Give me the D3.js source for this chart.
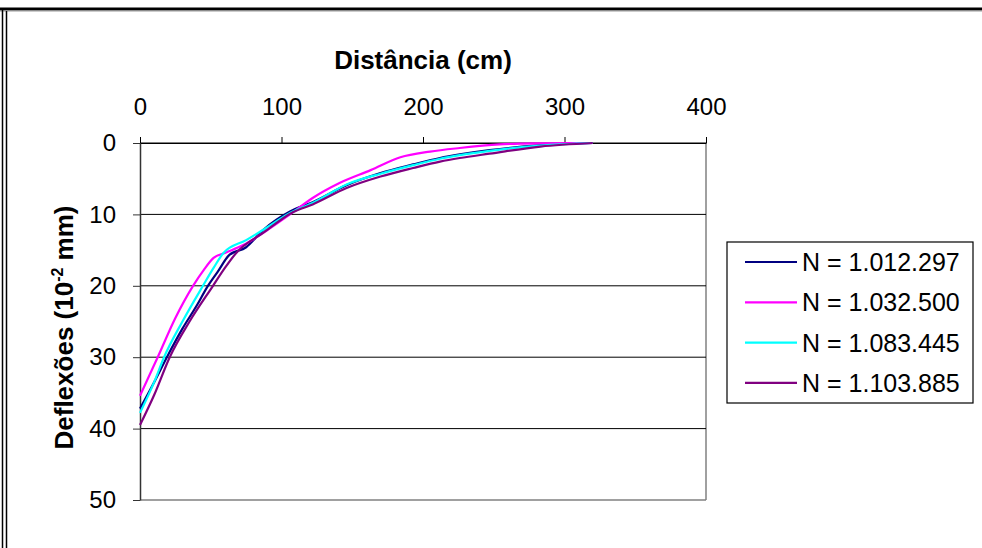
<!DOCTYPE html>
<html><head><meta charset="utf-8">
<script src="https://cdn.jsdelivr.net/npm/d3@7/dist/d3.min.js"></script>
<style>
html,body{margin:0;padding:0;background:#fff;}
svg{display:block;font-family:"Liberation Sans",Arial,sans-serif;}
</style></head>
<body>
<svg id="chart" width="982" height="548"></svg>
<script>
const xTicks = [0, 100, 200, 300, 400];
const yTicks = [0, 10, 20, 30, 40, 50];
const seriesNames = ["N = 1.012.297", "N = 1.032.500", "N = 1.083.445", "N = 1.103.885"];
const seriesColors = ["#000080", "#FF00FF", "#00FFFF", "#800080"];
const dist1 = [0, 10, 19, 30, 40, 48, 55, 63, 75, 87, 106, 122, 146, 170, 193, 212, 226, 247, 283, 320];
const defl1 = [37.2, 33.5, 30, 26, 22.8, 20, 18, 15.7, 14.6, 12.2, 9.6, 8.3, 5.9, 4.2, 3.0, 2.1, 1.6, 1.0, 0.3, 0];
const dist2 = [0, 12.5, 25, 37.5, 45, 52, 60, 73, 90, 106, 122, 141, 163, 184, 205, 226, 254, 280, 320];
const defl2 = [35.4, 30, 24.5, 20, 17.8, 16.1, 15.4, 14.3, 12.2, 10, 7.7, 5.6, 3.8, 2.0, 1.2, 0.7, 0.2, 0.05, 0];
const dist3 = [0, 10, 17, 30, 44.5, 52, 59, 75, 90, 106, 122, 146, 170, 193, 212, 226, 247, 283, 320];
const defl3 = [37.8, 33.5, 30, 25, 20, 17.5, 15.4, 13.6, 11.8, 9.8, 8.4, 5.8, 4.3, 3.1, 2.2, 1.7, 1.1, 0.35, 0];
const dist4 = [0, 10, 21, 35, 51.6, 60, 68, 87, 108, 122, 146, 170, 193, 212, 226, 247, 283, 320];
const defl4 = [39.5, 35.3, 30, 25, 20, 17.5, 15.4, 12.6, 9.7, 8.6, 6.3, 4.7, 3.5, 2.6, 2.1, 1.5, 0.5, 0];

const dists = [dist1, dist2, dist3, dist4];
const defls = [defl1, defl2, defl3, defl4];
const series = seriesNames.map((n, i) => ({
  name: n, color: seriesColors[i],
  pts: dists[i].map((d, j) => ({x: d, y: defls[i][j]}))
}));

const svg = d3.select("#chart");
const L = 140, R = 706, T = 143, B = 500;
const x = d3.scaleLinear().domain([0, 400]).range([L, R]);
const y = d3.scaleLinear().domain([0, 50]).range([T, B]);

// outer frame
svg.append("line").attr("x1", 0).attr("x2", 982).attr("y1", 9).attr("y2", 9).attr("stroke", "#000").attr("stroke-width", 3);
svg.append("line").attr("x1", 0).attr("x2", 982).attr("y1", 11).attr("y2", 11).attr("stroke", "#999").attr("stroke-width", 1);
svg.append("line").attr("x1", 2.5).attr("x2", 2.5).attr("y1", 8).attr("y2", 548).attr("stroke", "#000").attr("stroke-width", 1.5);
svg.append("line").attr("x1", 6.5).attr("x2", 6.5).attr("y1", 11).attr("y2", 548).attr("stroke", "#000").attr("stroke-width", 1.5);

// plot border right/bottom
svg.append("line").attr("x1", R).attr("x2", R).attr("y1", T).attr("y2", B).attr("stroke", "#808080").attr("stroke-width", 1.5);
svg.append("line").attr("x1", L).attr("x2", R).attr("y1", B).attr("y2", B).attr("stroke", "#808080").attr("stroke-width", 1.5);

// gridlines
svg.append("g").selectAll("line").data(yTicks.filter(v => v < 50)).join("line")
  .attr("x1", L).attr("x2", R).attr("y1", d => y(d)).attr("y2", d => y(d))
  .attr("stroke", "#000").attr("stroke-width", 1);

// y axis
const yAxis = svg.append("g").attr("transform", `translate(${L},0)`)
  .call(d3.axisLeft(y).tickValues(yTicks).tickSize(7).tickPadding(17).tickSizeOuter(0));
yAxis.select(".domain").attr("stroke", "#333").attr("stroke-width", 1.5);
yAxis.selectAll(".tick line").attr("stroke", "#333");
yAxis.selectAll("text").attr("font-size", 24).attr("fill", "#000").attr("font-family", "Liberation Sans, Arial, sans-serif");

// x axis (top)
const xAxis = svg.append("g").attr("transform", `translate(0,${T})`)
  .call(d3.axisTop(x).tickValues(xTicks).tickSize(6).tickPadding(22).tickSizeOuter(0));
xAxis.select(".domain").attr("stroke", "#000").attr("stroke-width", 1);
xAxis.selectAll(".tick line").attr("stroke", "#000");
xAxis.selectAll("text").attr("font-size", 24).attr("fill", "#000").attr("font-family", "Liberation Sans, Arial, sans-serif");

// series
const line = d3.line().x(d => x(d.x)).y(d => y(d.y)).curve(d3.curveMonotoneX);
svg.append("g").selectAll("path").data(series).join("path")
  .attr("d", d => line(d.pts)).attr("fill", "none")
  .attr("stroke", d => d.color).attr("stroke-width", 2.2).attr("stroke-linejoin", "round");

// titles
svg.append("text").attr("x", (L + R) / 2).attr("y", 69).attr("text-anchor", "middle")
  .attr("font-size", 26).attr("font-weight", "bold").text("Distância (cm)");
const yt = svg.append("text").attr("transform", `translate(73,${(T + B) / 2 + 6}) rotate(-90)`)
  .attr("text-anchor", "middle").attr("font-size", 26).attr("font-weight", "bold");
yt.append("tspan").text("Deflexões (10");
yt.append("tspan").attr("font-size", 16).attr("dy", -10).text("-2");
yt.append("tspan").attr("dy", 10).text(" mm)");

// legend
const lg = svg.append("g");
lg.append("rect").attr("x", 727).attr("y", 242).attr("width", 246).attr("height", 161)
  .attr("fill", "#fff").attr("stroke", "#000").attr("stroke-width", 1.2);
const rows = lg.selectAll("g.row").data(series).join("g").attr("class", "row")
  .attr("transform", (d, i) => `translate(0,${262 + i * 40.3})`);
rows.append("line").attr("x1", 745).attr("x2", 797).attr("y1", 0).attr("y2", 0)
  .attr("stroke", d => d.color).attr("stroke-width", 2.2);
rows.append("text").attr("x", 802).attr("y", 9).attr("font-size", 25).text(d => d.name);
</script>
</body></html>
